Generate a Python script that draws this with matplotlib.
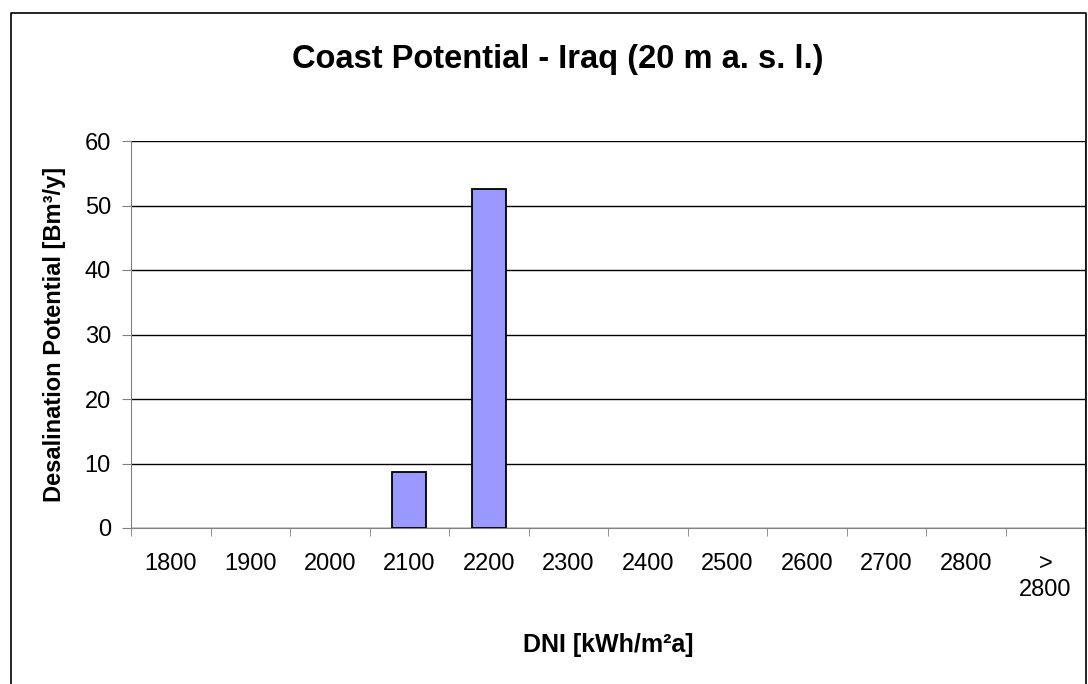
import numpy as np
import matplotlib.pyplot as plt
from matplotlib.lines import Line2D

plt.rcParams['font.family'] = ['Liberation Sans', 'DejaVu Sans']

# DNI classes and desalination potential
categories = ['1800', '1900', '2000', '2100', '2200', '2300', '2400',
              '2500', '2600', '2700', '2800', '>\n2800']
potential = [0, 0, 0, 8.7, 52.5, 0, 0, 0, 0, 0, 0, 0]

W, H = 1088, 684
fig = plt.figure(figsize=(W / 100, H / 100), dpi=100)
ax = fig.add_axes([131 / W, 1 - 528 / H, (1085 - 131) / W, (528 - 141) / H])

x = np.arange(len(categories))
vals = np.array(potential)
mask = vals > 0
ax.bar(x[mask], vals[mask], width=0.43, color='#9999ff', edgecolor='black', linewidth=1.3, zorder=3)

ax.set_xlim(-0.5, len(categories) - 0.5)
ax.set_ylim(0, 60)
ax.set_yticks(np.arange(0, 61, 10))
ax.yaxis.grid(True, color='black', linewidth=1)
ax.set_axisbelow(True)

# category labels centered, tick marks between categories
ax.set_xticks(x)
ax.set_xticklabels(categories, fontsize=17, linespacing=1.25, va='top')
ax.tick_params(axis='x', length=0, pad=18)
ax.set_xticks(np.arange(-0.5, len(categories)), minor=True)
ax.tick_params(axis='x', which='minor', length=6, color='#808080', direction='out')
ax.tick_params(axis='y', labelsize=17, length=6.5, color='#808080', direction='out', pad=8)

ax.spines['top'].set_visible(False)
for s in ['left', 'bottom', 'right']:
    ax.spines[s].set_color('#808080')

fig.text(55 / W, 1 - 334 / H, 'Desalination Potential [Bm³/y]', rotation=90,
         ha='center', va='center', fontsize=17, fontweight='bold')
fig.text(608 / W, 1 - 652 / H, 'DNI [kWh/m²a]', ha='center', va='baseline',
         fontsize=18, fontweight='bold')
fig.text(558 / W, 1 - 68 / H, 'Coast Potential - Iraq (20 m a. s. l.)', ha='center', va='baseline',
         fontsize=23.5, fontweight='bold')

# chart border (image is cropped at the bottom)
bx = [11 / W, 11 / W, 1086 / W, 1086 / W]
by = [0, 1 - 13 / H, 1 - 13 / H, 0]
fig.lines.append(Line2D(bx, by, transform=fig.transFigure, color='black', linewidth=1.2))

fig.savefig('out.png', dpi=100)
